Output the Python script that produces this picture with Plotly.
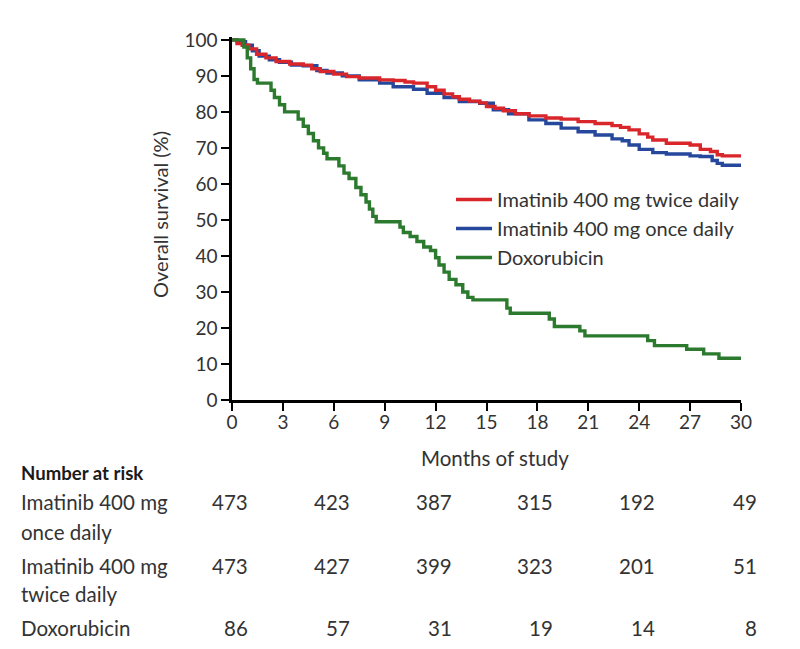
import plotly.graph_objects as go

# ---- data ----
twice_t = [0, 0.3, 0.6, 1.0, 1.45, 2.0, 2.6, 3.4, 4.2, 4.7, 5.2, 6.0, 6.75, 7.5, 8.7, 9.5,
           10.2, 10.7, 11.5, 12.0, 12.5, 13.0, 13.4, 14.0, 14.6, 15.0, 15.5, 16.0, 16.7,
           17.5, 18.5, 19.4, 20.4, 21.4, 22.4, 22.9, 23.4, 24.0, 24.5, 24.8, 25.6, 27.0,
           27.6, 28.2, 28.6, 28.9, 30]
twice_s = [100, 99, 98.5, 97.5, 96, 95, 94, 93.3, 93, 92, 91.2, 90.5, 89.8, 89.4, 88.9, 88.7,
           88.3, 88, 87, 86, 85, 84.2, 83.5, 83, 82.5, 81.5, 81, 80.3, 79.5,
           78.9, 78.3, 78.0, 77.3, 76.8, 76.2, 75.7, 75, 73.9, 73, 72.2, 71.3, 70.8,
           69.6, 69, 68.1, 67.8, 67.8]

once_t = [0, 0.3, 0.8, 1.2, 1.6, 2.2, 2.8, 3.5, 4.2, 5.0, 5.6, 6.5, 7.5, 8.7, 9.5, 10.7,
          11.5, 12.5, 13.4, 14.6, 15.4, 16.3, 17.5, 18.5, 19.4, 20.4, 21.4, 22.4, 23.0,
          23.4, 24.0, 24.8, 25.6, 27.0, 27.6, 28.3, 28.6, 28.9, 30]
once_s = [100, 99.5, 98.5, 97, 95.5, 94.5, 93.8, 93, 92.8, 91.5, 90.8, 90, 88.9, 88, 87, 86.3,
          85.2, 84, 82.9, 82.4, 80.6, 79.5, 77.8, 76.8, 75.5, 74.5, 73.6, 72.5, 72,
          70.8, 69.6, 68.7, 68.3, 67.8, 67.6, 66.5, 65.7, 65.2, 65.2]

doxo_t = [0, 0.7, 0.9, 1.1, 1.3, 1.5, 2.3, 2.5, 2.8, 3.1, 3.9, 4.2, 4.5, 4.8, 5.1, 5.4, 5.6,
          6.3, 6.6, 6.9, 7.3, 7.6, 7.9, 8.1, 8.3, 8.5, 9.9, 10.1, 10.5, 10.9, 11.3, 11.7,
          12.0, 12.2, 12.5, 12.8, 13.2, 13.6, 13.9, 14.2, 16.2, 16.4, 18.7, 19.0, 20.5,
          20.8, 24.5, 24.9, 26.8, 27.8, 28.7, 30]
doxo_s = [100, 98, 95, 92, 89, 88, 86, 84, 82, 80, 78, 76, 74, 72, 70, 68.5, 67,
          65, 63, 61.5, 59, 57, 55, 53, 51, 49.5, 48, 46.5, 45.4, 44, 42.5, 41.5,
          39.5, 37.5, 35.5, 33.5, 32, 30, 28.5, 27.8, 25.5, 24.1, 22.5, 20.4, 19.2,
          17.8, 16.5, 15.1, 14.1, 12.8, 11.6, 11.6]

risk_months = [0, 6, 12, 18, 24, 30]
risk_once = [473, 423, 387, 315, 192, 49]
risk_twice = [473, 427, 399, 323, 201, 51]
risk_doxo = [86, 57, 31, 19, 14, 8]

x_ticks = [0, 3, 6, 9, 12, 15, 18, 21, 24, 27, 30]
y_ticks = [0, 10, 20, 30, 40, 50, 60, 70, 80, 90, 100]

RED = "#d9262b"
BLUE = "#26489c"
GREEN = "#2b7a2e"
TXT = "#333333"
FONT = "Lato"
FS = 20.5      # body text
FT = 19        # tick labels

fig = go.Figure()
fig.add_trace(go.Scatter(x=once_t, y=once_s, mode="lines", line=dict(color=BLUE, width=3.4, shape="hv"),
                         name="Imatinib 400 mg once daily", legendrank=2))
fig.add_trace(go.Scatter(x=twice_t, y=twice_s, mode="lines", line=dict(color=RED, width=3.4, shape="hv"),
                         name="Imatinib 400 mg twice daily", legendrank=1))
fig.add_trace(go.Scatter(x=doxo_t, y=doxo_s, mode="lines", line=dict(color=GREEN, width=3.4, shape="hv"),
                         name="Doxorubicin", legendrank=3))

# page has an 8px body margin; plot area targets page x 232..741, y 37..400
OFF = 8
W, H = 800 - OFF, 649 - OFF
L, T = 232 - OFF, 37 - OFF
PW, PH = 509, 363
R, B = W - L - PW, H - T - PH


def ypaper(ypix):
    return (400 - ypix) / PH


def xpaper(xpix):
    return (xpix - 232) / PW


ann = []
ann.append(dict(text="<b>Number at risk</b>", x=0, xref="paper", y=ypaper(473), yref="paper",
                xanchor="left", yanchor="middle", showarrow=False, xshift=19 - 232,
                font=dict(size=18.6, color="#1a1a1a")))
labels = [("Imatinib 400 mg", 502), ("once daily", 532), ("Imatinib 400 mg", 566),
          ("twice daily", 594), ("Doxorubicin", 628)]
for t, yp in labels:
    ann.append(dict(text=t, x=0, xref="paper", y=ypaper(yp), yref="paper", xanchor="left",
                    yanchor="middle", showarrow=False, xshift=19 - 232, font=dict(size=FS, color=TXT)))
for row, yp in [(risk_once, 502), (risk_twice, 566), (risk_doxo, 628)]:
    for m, v in zip(risk_months, row):
        ann.append(dict(text=str(v), x=m, xref="x", y=ypaper(yp), yref="paper", xanchor="right",
                        yanchor="middle", showarrow=False, xshift=18, font=dict(size=FS, color=TXT)))
ann.append(dict(text="Months of study", x=15, xref="x", y=ypaper(458), yref="paper", xanchor="center",
                yanchor="middle", showarrow=False, xshift=8, font=dict(size=FS, color=TXT)))
ann.append(dict(text="Overall survival (%)", x=0, xref="x", y=ypaper(215), yref="paper", xanchor="center",
                yanchor="middle", showarrow=False, xshift=160 - 232, textangle=-90,
                font=dict(size=20, color=TXT)))

fig.update_layout(
    width=W, height=H,
    margin=dict(l=L, r=R, t=T, b=B),
    paper_bgcolor="white", plot_bgcolor="white",
    font=dict(family=FONT, size=FS, color=TXT),
    showlegend=True,
    legend=dict(x=xpaper(451), y=ypaper(180), xanchor="left", yanchor="top", bgcolor="rgba(0,0,0,0)",
                font=dict(size=20, color=TXT), itemwidth=36, tracegroupgap=0),
    annotations=ann,
    xaxis=dict(range=[0, 30], tickvals=x_ticks, showgrid=False, zeroline=False, showline=True,
               linecolor="black", linewidth=2.5, ticks="outside", ticklen=8, tickwidth=2,
               tickcolor="black", tickfont=dict(size=FT, color=TXT), ticklabelstandoff=-5),
    yaxis=dict(range=[0, 100.8], tickvals=y_ticks, showgrid=False, zeroline=False, showline=True,
               linecolor="black", linewidth=2.5, ticks="outside", ticklen=8, tickwidth=2,
               tickcolor="black", tickfont=dict(size=FT, color=TXT)),
)

fig.write_html("out.html")
